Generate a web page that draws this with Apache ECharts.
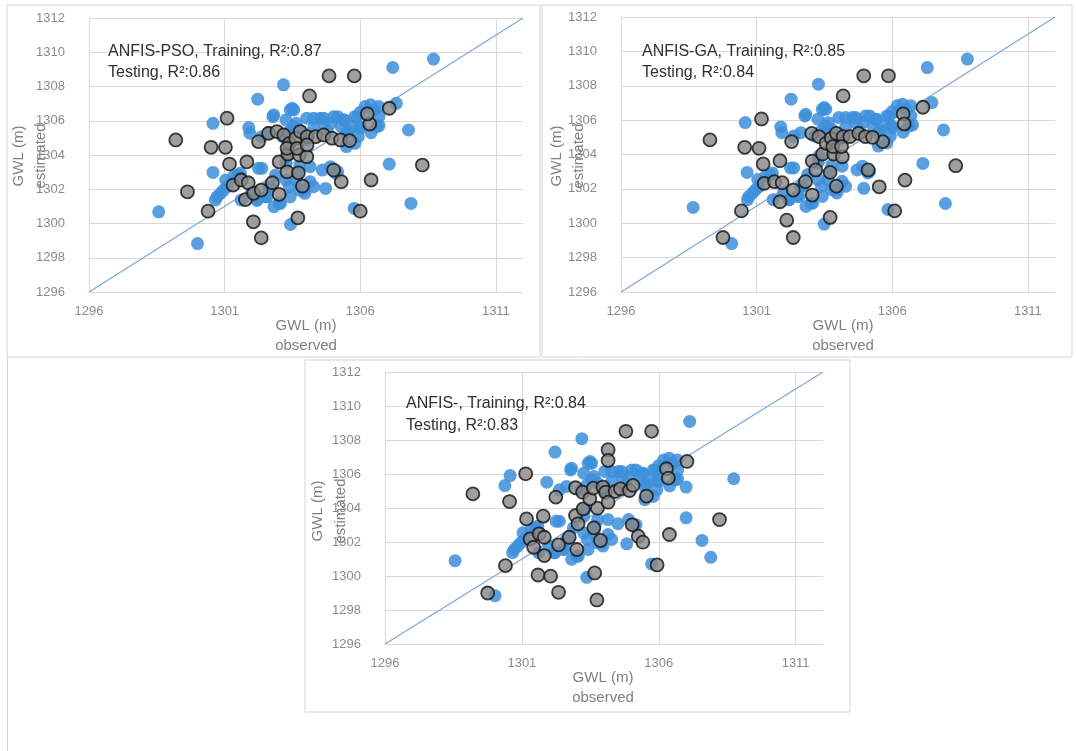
<!DOCTYPE html>
<html><head><meta charset="utf-8">
<script src="https://cdn.jsdelivr.net/npm/echarts@6/dist/echarts.min.js"></script>
<style>html,body{margin:0;padding:0;background:#fff}#c{width:1076px;height:751px}</style>
</head><body><div id="c"></div>
<script>
// ---------- data ----------
const panelTitles = ['ANFIS-PSO, Training, R²:0.87', 'ANFIS-GA, Training, R²:0.85', 'ANFIS-, Training, R²:0.84'];
const panelSubtitles = ['Testing, R²:0.86', 'Testing, R²:0.84', 'Testing, R²:0.83'];
const xAxisTitle = ['GWL (m)', 'observed'];
const yAxisTitle = ['GWL (m)', 'estimated'];
const diagonal = [[1296, 1296], [1312, 1312]];

const blueCore = [
[1300.66,1301.37],[1300.85,1301.76],[1301.1,1302.15],[1301.04,1302.54],[1301.49,1302.83],[1301.99,1301.76],[1302.19,1301.37],[1302.37,1303.22],[1302.63,1302.15],[1303.01,1301.17],[1303.39,1302.15],[1303.64,1302.54],[1303.96,1301.76],[1304.15,1302.44],[1303.77,1303.32],[1303.26,1303.51],[1302.88,1302.83],
[1302.63,1305.27],[1303.26,1306.05],[1303.64,1305.85],[1304.03,1306.15],[1304.53,1306.15],[1304.91,1305.85],[1305.3,1305.66],[1305.42,1306.05],[1305.8,1306.24],[1305.99,1305.66],[1305.93,1305.07],[1306.18,1306.83],[1306.5,1306.63],[1305.55,1305.37],[1304.79,1305.37],[1304.28,1305.56],[1303.77,1305.46],[1303.14,1305.07],[1302.37,1305.07],[1305.8,1304.68],[1305.49,1304.49],[1304.03,1304.88],[1306.69,1306.24],[1305.17,1306.24],[1304.66,1305.85],[1303.39,1305.37],[1304.15,1303.32],[1305.17,1303.02],[1305.49,1305.27],
[1301.61,1301.37],[1302.5,1301.56],[1302.82,1300.98],[1303.77,1301.95],[1304.28,1302.15],[1303.26,1302.54],[1305.1,1302.93],[1302.81,1306.34],[1306.4,1305.3],[1306.0,1306.5],
[1306.38,1306.93],[1306.68,1306.83],[1305.89,1306.24],[1305.7,1305.66],[1306.0,1305.56],[1306.62,1305.66],[1305.39,1306.05],[1305.02,1306.24],[1304.65,1306.15],[1304.28,1306.15],[1303.55,1306.63],[1304.9,1303.32],[1303.92,1301.95],[1303.67,1302.93],
[1302.25,1303.22],[1300.72,1301.56],[1300.96,1301.95],[1301.33,1302.73],[1301.58,1302.93],[1302.2,1301.37],[1302.56,1301.56],[1303.06,1301.17],[1303.42,1301.56],[1302.69,1302.15],[1303.42,1306.63],[1303.55,1305.66],[1303.3,1303.9]];

const blue1 = [[1298.57,1300.68],[1300.0,1298.83],[1300.57,1305.85],[1300.57,1302.98],[1302.22,1307.26],[1303.17,1308.1],[1307.2,1309.11],[1308.7,1309.6],[1307.78,1305.46],[1307.07,1303.47],[1307.87,1301.17],[1305.78,1300.88],[1303.43,1299.94],[1307.33,1307.02],[1306.69,1305.72],[1301.89,1305.6],[1302.78,1306.24],[1303.49,1306.73],[1304.6,1303.12],[1304.72,1302.05],[1301.93,1305.27]];

const gray1 = [[1304.85,1308.62],[1305.78,1308.62],[1304.13,1307.45],[1301.09,1306.15],[1299.2,1304.88],[1300.5,1304.45],[1301.03,1304.45],[1301.18,1303.47],[1301.82,1303.6],[1299.63,1301.85],[1300.39,1300.72],[1302.06,1300.1],[1302.35,1299.16],[1303.7,1300.33],[1306.0,1300.72],[1306.4,1302.54],[1305.3,1302.44],[1305.02,1303.12],[1308.29,1303.41],[1307.07,1306.73],[1306.35,1305.81],[1306.26,1306.4],[1302.25,1304.78],
[1301.31,1302.24],[1301.61,1302.54],[1301.87,1302.38],[1301.77,1301.4],[1302.07,1301.76],[1302.35,1301.95],[1302.76,1302.38],[1303.01,1301.7],[1303.3,1303.02],[1303.72,1302.96],[1303.87,1302.19],[1303.01,1303.6],[1303.33,1304.06],[1303.75,1304.0],[1304.03,1303.9],
[1302.62,1305.27],[1302.93,1305.37],[1303.18,1305.17],[1303.39,1304.68],[1303.62,1304.98],[1303.79,1305.37],[1304.04,1305.07],[1304.35,1305.07],[1304.65,1305.17],[1304.96,1304.98],[1305.27,1304.88],[1305.61,1304.84],[1303.3,1304.39],[1303.67,1304.39],[1304.04,1304.59]];

const blue2 = [[1298.66,1300.92],[1300.08,1298.82],[1300.58,1305.86],[1300.65,1302.96],[1302.27,1307.22],[1303.28,1308.09],[1307.29,1309.06],[1308.77,1309.55],[1307.89,1305.43],[1307.13,1303.48],[1307.96,1301.15],[1305.84,1300.8],[1303.49,1299.95],[1307.46,1307.02],[1306.75,1305.72],[1301.89,1305.6],[1302.78,1306.24],[1303.49,1306.73],[1304.7,1303.1],[1304.95,1302.03],[1301.93,1305.27]];

const gray2 = [[1304.95,1308.58],[1305.86,1308.58],[1304.19,1307.41],[1301.18,1306.07],[1299.28,1304.85],[1300.56,1304.42],[1301.09,1304.36],[1301.24,1303.45],[1301.86,1303.64],[1300.44,1300.72],[1299.76,1299.17],[1302.11,1300.18],[1302.35,1299.17],[1303.71,1300.34],[1306.09,1300.72],[1306.47,1302.51],[1305.52,1302.12],[1305.11,1303.1],[1308.34,1303.35],[1307.13,1306.75],[1306.4,1306.36],[1306.44,1305.78],[1302.29,1304.75],[1305.65,1304.75],
[1301.28,1302.32],[1301.66,1302.42],[1301.94,1302.36],[1301.86,1301.25],[1302.35,1301.93],[1302.8,1302.42],[1303.05,1301.64],[1303.05,1303.62],[1303.18,1303.1],[1303.71,1302.96],[1303.94,1302.16],[1303.43,1304.03],[1303.84,1304.03],[1304.16,1303.87],
[1303.03,1305.23],[1303.3,1305.04],[1303.56,1304.65],[1303.75,1304.94],[1303.94,1305.23],[1304.19,1305.04],[1304.44,1305.04],[1304.76,1305.23],[1305.01,1305.04],[1305.27,1305.0],[1303.81,1304.46],[1304.13,1304.46]];

const blue3 = [[1298.56,1300.9],[1300.02,1298.84],[1300.57,1305.91],[1300.38,1305.32],[1302.21,1307.29],[1303.19,1308.08],[1307.13,1309.09],[1308.74,1305.72],[1307.0,1305.23],[1307.0,1303.42],[1307.9,1301.1],[1307.58,1302.09],[1305.74,1300.71],[1303.37,1299.92],[1306.69,1305.72],[1301.91,1305.52],[1302.78,1306.24],[1303.49,1306.73],[1304.51,1303.08],[1304.83,1301.89]];

const gray3 = [[1304.8,1308.51],[1305.74,1308.51],[1304.15,1307.43],[1304.15,1306.8],[1301.14,1306.01],[1299.21,1304.83],[1300.55,1304.38],[1301.17,1303.36],[1301.78,1303.52],[1302.24,1304.64],[1300.4,1300.61],[1299.75,1299.0],[1301.59,1300.06],[1302.05,1299.99],[1302.34,1299.04],[1303.74,1298.59],[1303.66,1300.18],[1305.94,1300.65],[1306.39,1302.44],[1305.25,1302.34],[1305.42,1301.99],[1305.03,1303.01],[1308.22,1303.32],[1307.03,1306.74],[1306.28,1306.31],[1306.35,1305.76],[1305.55,1304.7],
[1301.3,1302.18],[1301.63,1302.48],[1301.82,1302.28],[1301.82,1301.2],[1301.43,1301.69],[1302.34,1301.83],[1302.73,1302.28],[1303.01,1301.56],[1302.96,1303.56],[1303.05,1303.07],[1303.63,1302.83],[1303.87,1302.09],[1303.24,1303.95],[1303.76,1303.99],
[1302.96,1305.19],[1303.22,1304.93],[1303.48,1304.54],[1303.61,1305.17],[1303.96,1305.23],[1304.06,1304.93],[1304.41,1304.97],[1304.15,1304.34],[1304.6,1305.13],[1304.93,1305.03],[1305.06,1305.33]];

// ---------- layout ----------
const panels = [
  {box:[7,5,533,352], grid:{left:89,top:18,width:434,height:274}, ann:[108,52,73], yt:[19,41,156], xt:[306,326,346], blue:blue1.concat(blueCore), gray:gray1},
  {box:[542,5,530,352], grid:{left:621,top:17,width:434,height:275}, ann:[642,52,73], yt:[557,579,156], xt:[843,326,346], blue:blue2.concat(blueCore), gray:gray2},
  {box:[305,360,545,352], grid:{left:385,top:372,width:438,height:272}, ann:[406,404,426], yt:[318,341,511], xt:[603,678,698], blue:blue3.concat(blueCore), gray:gray3}
];

const labelColor = '#8a8a8a';
const grids = [], xAxes = [], yAxes = [], series = [], graphics = [];
panels.forEach((p, i) => {
  grids.push(p.grid);
  xAxes.push({type:'value', gridIndex:i, min:1296, max:1312, interval:5,
    axisLine:{show:false}, axisTick:{show:false},
    axisLabel:{color:labelColor, fontSize:13, margin:13, showMaxLabel:false, fontFamily:'Liberation Sans', formatter:v => String(v)},
    splitLine:{show:true, showMaxLine:false, lineStyle:{color:'#d9d9d9', width:1}}});
  yAxes.push({type:'value', gridIndex:i, min:1296, max:1312, interval:2,
    axisLine:{show:false}, axisTick:{show:false},
    axisLabel:{color:labelColor, fontSize:13, margin:24, fontFamily:'Liberation Sans', formatter:v => String(v)},
    splitLine:{show:true, lineStyle:{color:'#d9d9d9', width:1}}});
  series.push({type:'line', xAxisIndex:i, yAxisIndex:i, data:diagonal, symbol:'none', z:1,
    lineStyle:{color:'#7aa7d8', width:1.2}, silent:true});
  series.push({type:'scatter', xAxisIndex:i, yAxisIndex:i, data:p.blue, symbolSize:13, z:2,
    itemStyle:{color:'#3d8fdb', opacity:0.85}});
  series.push({type:'scatter', xAxisIndex:i, yAxisIndex:i, data:p.gray, symbolSize:13, z:3,
    itemStyle:{color:'#878787', borderColor:'#111', borderWidth:1.8}});
  const [bx,by,bw,bh] = p.box;
  graphics.push({type:'rect', shape:{x:bx,y:by,width:bw,height:bh}, style:{fill:'none', stroke:'#d4d4d4', lineWidth:1}, z:-10});
  graphics.push({type:'text', x:p.ann[0], y:p.ann[1], style:{text:panelTitles[i], fill:'#303030', font:'16px "Liberation Sans"', verticalAlign:'middle'}, z:10});
  graphics.push({type:'text', x:p.ann[0], y:p.ann[2], style:{text:panelSubtitles[i], fill:'#303030', font:'16px "Liberation Sans"', verticalAlign:'middle'}, z:10});
  graphics.push({type:'text', x:p.yt[0], y:p.yt[2], rotation:Math.PI/2, style:{text:yAxisTitle[0], fill:'#7f7f7f', font:'15px "Liberation Sans"', align:'center', verticalAlign:'middle'}});
  graphics.push({type:'text', x:p.yt[1], y:p.yt[2], rotation:Math.PI/2, style:{text:yAxisTitle[1], fill:'#7f7f7f', font:'15px "Liberation Sans"', align:'center', verticalAlign:'middle'}});
  graphics.push({type:'text', x:p.xt[0], y:p.xt[1], style:{text:xAxisTitle[0], fill:'#7f7f7f', font:'15px "Liberation Sans"', align:'center', verticalAlign:'middle'}});
  graphics.push({type:'text', x:p.xt[0], y:p.xt[2], style:{text:xAxisTitle[1], fill:'#7f7f7f', font:'15px "Liberation Sans"', align:'center', verticalAlign:'middle'}});
});
graphics.push({type:'line', shape:{x1:7.5,y1:357,x2:7.5,y2:751}, style:{stroke:'#d4d4d4', lineWidth:1}});

const chart = echarts.init(document.getElementById('c'));
chart.setOption({animation:false, backgroundColor:'#fff', grid:grids, xAxis:xAxes, yAxis:yAxes, series:series, graphic:graphics});
</script></body></html>
